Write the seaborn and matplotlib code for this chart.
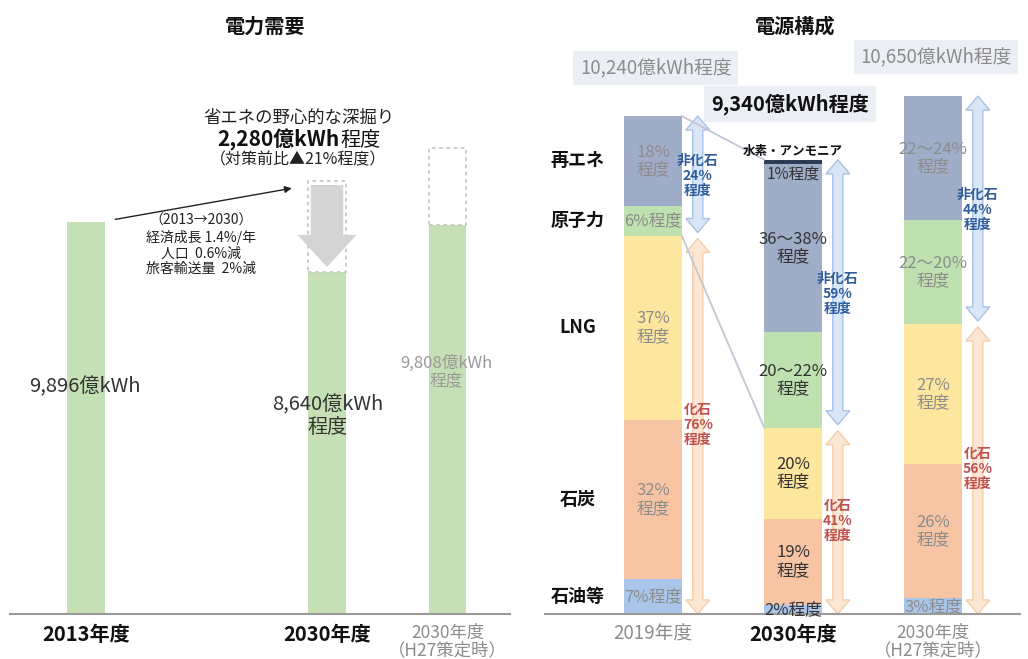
import matplotlib
matplotlib.use("Agg")
import matplotlib.pyplot as plt
import matplotlib.patches as mpatches
import seaborn as sns
import numpy as np
import pandas as pd

# --- data: 電力需要 ---
demand_years = ["2013年度", "2030年度", "2030年度\n（H27策定時）"]
demand_pos = [0, 2, 3]
demand_values = [9896, 8640, 9808]
demand_before = [np.nan, 10920, 11770]  # 対策前
demand_labels = ["9,896億kWh", "8,640億kWh\n程度", "9,808億kWh\n程度"]

# --- data: 電源構成 ---
mix_years = ["2019年度", "2030年度", "2030年度\n（H27策定時）"]
mix_totals = [10240, 9340, 10650]
mix_total_labels = ["10,240億kWh程度", "9,340億kWh程度", "10,650億kWh程度"]
sources = ["石油等", "石炭", "LNG", "原子力", "再エネ", "水素・アンモニア"]
share_2019 = [7, 32, 37, 6, 18, 0]
share_2030 = [2, 19, 20, 21, 37, 1]
share_h27 = [3, 26, 27, 20, 24, 0]
share_labels_2019 = ["7%程度", "32%\n程度", "37%\n程度", "6%程度", "18%\n程度", ""]
share_labels_2030 = ["2%程度", "19%\n程度", "20%\n程度", "20～22%\n程度", "36～38%\n程度", "1%程度"]
share_labels_h27 = ["3%程度", "26%\n程度", "27%\n程度", "22～20%\n程度", "22～24%\n程度", ""]
fossil_share = [76, 41, 56]
nonfossil_share = [24, 59, 44]

source_colors = ["#a9c6ea", "#f8c5a4", "#fde69e", "#bfe1b0", "#a0adc8", "#2f3a55"]
year_text_colors = ["#8c8c8c", "#333333", "#8c8c8c"]

sns.set_theme(style="white")
plt.rcParams['font.family'] = ['Noto Sans CJK JP', 'DejaVu Sans']

W, H = 1028, 659
fig = plt.figure(figsize=(W / 100, H / 100), dpi=100)

def fx(px):
    return px / W

def fy(py):
    return 1 - py / H

ax1 = fig.add_axes([fx(10), fy(614), fx(500), 574 / H])
ax2 = fig.add_axes([fx(545), fy(614), fx(475), 574 / H])

#%% 電力需要
df_d = pd.DataFrame({"pos": demand_pos, "value": demand_values})
sns.barplot(data=df_d, x="pos", y="value", native_scale=True, width=0.31,
            color="#c5e0b4", saturation=1, linewidth=0, ax=ax1)
ax1.set_xlim(-0.631, 3.519)
ax1.set_ylim(0, 14491)

for p, v, b in zip(demand_pos, demand_values, demand_before):
    if np.isnan(b):
        continue
    ax1.add_patch(mpatches.Rectangle((p - 0.155, v), 0.31, b - v, fill=False,
                                     edgecolor="#c8c8c8", lw=1.3, ls=(0, (2, 2))))

# big gray down arrow (省エネ)
xc = demand_pos[1]
top = demand_before[1] - 90
tip = demand_values[1] + 120
neck = tip + 810
arrow_pts = [(xc - 0.135, top), (xc + 0.135, top), (xc + 0.135, neck), (xc + 0.245, neck),
             (xc, tip), (xc - 0.245, neck), (xc - 0.135, neck)]
ax1.add_patch(mpatches.Polygon(arrow_pts, closed=True, facecolor="#d4d4d4", edgecolor="none"))

ax1.annotate("", xy=(1.73, 10760), xytext=(0.22, 9950),
             arrowprops=dict(arrowstyle="-|>", color="#222222", lw=1, mutation_scale=10))

ax1.set_xticks(demand_pos)
ax1.set_xticklabels(demand_years)
for i, t in enumerate(ax1.get_xticklabels()):
    if i < 2:
        t.set_fontweight("bold"); t.set_color("#111111"); t.set_fontsize(14.5)
    else:
        t.set_color("#8c8c8c"); t.set_fontsize(12.5); t.set_linespacing(0.95)
ax1.tick_params(axis="x", length=0, pad=7)
ax1.set_yticks([])
ax1.set_xlabel(""); ax1.set_ylabel("")

fig.text(fx(85), fy(387), demand_labels[0], ha="center", va="center", fontsize=14.5, color="#333333")
fig.text(fx(328), fy(416), demand_labels[1], ha="center", va="center", fontsize=14.5, color="#333333",
         linespacing=1.15)
fig.text(fx(446), fy(372), demand_labels[2], ha="center", va="center", fontsize=12, color="#9a9a9a",
         linespacing=1.0)

fig.text(fx(299), fy(118), "省エネの野心的な深掘り", ha="center", va="center", fontsize=12.5, color="#222222")
fig.text(fx(340), fy(140), "2,280億kWh", ha="right", va="center", fontsize=15, fontweight="bold", color="#111111")
fig.text(fx(340), fy(140), "程度", ha="left", va="center", fontsize=14.5, color="#111111")
fig.text(fx(298), fy(160), "（対策前比▲21%程度）", ha="center", va="center", fontsize=11.5, color="#222222")
fig.text(fx(201), fy(245), "（2013→2030）\n経済成長 1.4%/年\n人口  0.6%減\n旅客輸送量  2%減",
         ha="center", va="center", fontsize=10, color="#222222", linespacing=1.15)

#%% 電源構成
shares = np.array([share_2019, share_2030, share_h27], dtype=float)
totals = np.array(mix_totals, dtype=float)
seg = shares * totals[:, None] / 100
cum = seg.cumsum(axis=1)

for k in reversed(range(len(sources))):
    vals = np.where(shares[:, k] > 0, cum[:, k], np.nan)
    df_m = pd.DataFrame({"year": mix_years, "value": vals})
    sns.barplot(data=df_m, x="year", y="value", color=source_colors[k], saturation=1,
                width=0.41, linewidth=0, ax=ax2)
ax2.set_xlim(-0.771, 2.621)
ax2.set_ylim(0, 11803)

share_labels = [share_labels_2019, share_labels_2030, share_labels_h27]
for i in range(len(mix_years)):
    for k in range(len(sources)):
        lab = share_labels[i][k]
        if not lab:
            continue
        if k == len(sources) - 1:
            y = cum[i, k] - 300
            fs = 11
        else:
            y = cum[i, k] - seg[i, k] / 2
            fs = 12
        ax2.text(i, y, lab, ha="center", va="center", fontsize=fs,
                 color=year_text_colors[i], linespacing=1.05)

ax2.text(1, totals[1] + 40, "水素・アンモニア", ha="center", va="bottom", fontsize=9,
         fontweight="bold", color="#111111")

# 非化石 / 化石 double arrows
def double_arrow(ax, xc, y0, y1, face, edge):
    sw, hw, hl = 0.036, 0.085, 290
    pts = [(xc, y1), (xc + hw, y1 - hl), (xc + sw, y1 - hl), (xc + sw, y0 + hl),
           (xc + hw, y0 + hl), (xc, y0), (xc - hw, y0 + hl), (xc - sw, y0 + hl),
           (xc - sw, y1 - hl), (xc - hw, y1 - hl)]
    ax.add_patch(mpatches.Polygon(pts, closed=True, facecolor=face, edgecolor=edge, lw=1))

for i in range(len(mix_years)):
    ftop = totals[i] * fossil_share[i] / 100
    xa = i + 0.32
    double_arrow(ax2, xa, ftop + 60, totals[i], "#d9e6f6", "#a8c3e6")
    double_arrow(ax2, xa, 0, ftop - 60, "#fce7d4", "#f5cfaa")
    ax2.text(xa, (totals[i] + ftop) / 2, f"非化石\n{nonfossil_share[i]}%\n程度", ha="center", va="center",
             fontsize=10, fontweight="bold", color="#2f5d9e", linespacing=1.1)
    ax2.text(xa, ftop / 2, f"化石\n{fossil_share[i]}%\n程度", ha="center", va="center",
             fontsize=10, fontweight="bold", color="#c0504d", linespacing=1.1)

# connector lines 2019 -> 2030
f19 = totals[0] * fossil_share[0] / 100
f30 = totals[1] * fossil_share[1] / 100
ax2.plot([0.205, 0.795], [totals[0], totals[1]], color="#c5c5d5", lw=1.3)
ax2.plot([0.205, 0.795], [f19, f30], color="#c5c5d5", lw=1.3)

# row labels
for k in range(5):
    ax2.text(-0.54, cum[0, k] - seg[0, k] / 2, sources[k], ha="center", va="center",
             fontsize=13, fontweight="bold", color="#111111")

# totals
box = dict(boxstyle="square,pad=0.35", facecolor="#eceef5", edgecolor="none")
ax2.text(0.02, 11227, mix_total_labels[0], ha="center", va="center", fontsize=13.5,
         color="#8c8c8c", bbox=box)
ax2.text(0.98, 10486, mix_total_labels[1], ha="center", va="center", fontsize=14.5,
         fontweight="bold", color="#111111", bbox=box)
ax2.text(2.02, 11452, mix_total_labels[2], ha="center", va="center", fontsize=13.5,
         color="#8c8c8c", bbox=box)

ax2.set_xticks(range(len(mix_years)))
ax2.set_xticklabels(mix_years)
for i, t in enumerate(ax2.get_xticklabels()):
    if i == 1:
        t.set_fontweight("bold"); t.set_color("#111111"); t.set_fontsize(14.5)
    else:
        t.set_color("#8c8c8c"); t.set_fontsize(13.5 if i == 0 else 12.5); t.set_linespacing(0.95)
ax2.tick_params(axis="x", length=0, pad=7)
ax2.set_yticks([])
ax2.set_xlabel(""); ax2.set_ylabel("")

for ax in (ax1, ax2):
    for s in ("top", "left", "right"):
        ax.spines[s].set_visible(False)
    ax.spines["bottom"].set_color("#9a9a9a")
    ax.spines["bottom"].set_linewidth(1.5)
    ax.set_facecolor("none")

fig.text(fx(265), fy(26), "電力需要", ha="center", va="center", fontsize=14.5, fontweight="bold", color="#111111")
fig.text(fx(795), fy(26), "電源構成", ha="center", va="center", fontsize=14.5, fontweight="bold", color="#111111")

fig.savefig("out.png", dpi=100)
